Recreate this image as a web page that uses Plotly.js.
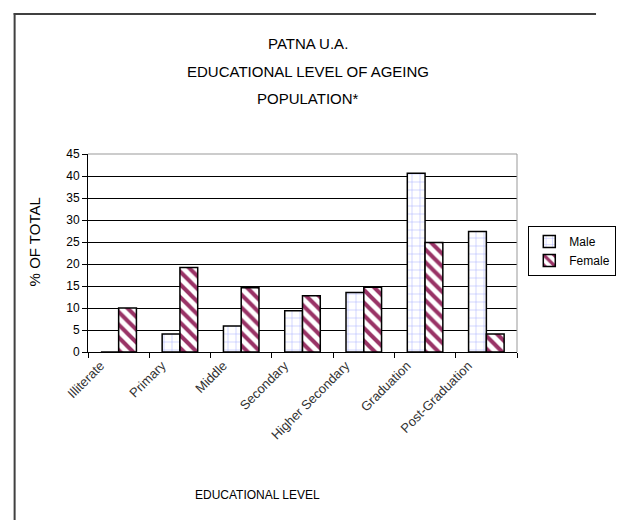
<!DOCTYPE html>
<html>
<head>
<meta charset="utf-8">
<script src="https://cdn.plot.ly/plotly-3.0.1.min.js"></script>
<style>html,body{margin:0;padding:0;background:#fff;}#chart{width:628px;height:520px;}</style>
</head>
<body>
<div id="chart"></div>
<script>
const categories = ["Illiterate", "Primary", "Middle", "Secondary", "Higher Secondary", "Graduation", "Post-Graduation"];
const maleValues = [0, 4.1, 5.9, 9.4, 13.5, 40.6, 27.4];
const femaleValues = [10, 19.2, 14.6, 12.8, 14.7, 24.9, 4.1];
const yTicks = [0, 5, 10, 15, 20, 25, 30, 35, 40, 45];
const titleLines = ["PATNA U.A.", "EDUCATIONAL LEVEL OF AGEING", "POPULATION*"];

const W = 628, H = 520;
const M = {l: 88, r: 84, t: 154, b: 168};
const pw = W - M.l - M.r, ph = H - M.t - M.b;
const px = x => (x - M.l) / pw;
const py = y => (H - M.b - y) / ph;
const FONT = "Liberation Sans, Arial, sans-serif";

const traces = [
  {
    type: "bar", name: "Male", x: categories, y: maleValues,
    marker: {
      color: "#ffffff",
      line: {color: "#000000", width: 1.5},
      pattern: {shape: "+", fgcolor: "#a8b0ff", bgcolor: "#ffffff", size: 8, solidity: 0.12}
    }
  },
  {
    type: "bar", name: "Female", x: categories, y: femaleValues,
    marker: {
      color: "#ffffff",
      line: {color: "#000000", width: 1.5},
      pattern: {shape: "\\", fgcolor: "#993366", bgcolor: "#ffffff", size: 9, solidity: 0.45}
    }
  }
];

const titleY = [43, 71, 98];
const annotations = titleLines.map((t, i) => ({
  text: t, xref: "paper", yref: "paper", x: px(322), y: py(titleY[i]),
  xanchor: "center", yanchor: "middle", showarrow: false,
  font: {family: FONT, size: 15, color: "#000"}
}));
annotations.push({
  text: "EDUCATIONAL LEVEL", xref: "paper", yref: "paper", x: px(268), y: py(495),
  xanchor: "center", yanchor: "middle", showarrow: false,
  font: {family: FONT, size: 12, color: "#000"}
});
annotations.push({
  text: "% OF TOTAL", xref: "paper", yref: "paper", x: px(31), y: py(242),
  xanchor: "center", yanchor: "middle", showarrow: false, textangle: -90,
  font: {family: FONT, size: 15, color: "#000"}
});

const layout = {
  width: W, height: H,
  margin: M,
  paper_bgcolor: "#ffffff", plot_bgcolor: "#ffffff",
  font: {family: FONT, color: "#000"},
  showlegend: true,
  barmode: "group",
  bargap: 0.42, bargroupgap: 0,
  xaxis: {
    type: "category",
    showline: true, linecolor: "#000", linewidth: 1,
    ticks: "outside", tickson: "boundaries", ticklen: 5, tickcolor: "#000",
    tickangle: -45, tickfont: {family: FONT, size: 13, color: "#333"},
    ticklabelshift: -18, ticklabelstandoff: 0,
    showgrid: false, zeroline: false
  },
  yaxis: {
    range: [0, 45], tickvals: yTicks, ticktext: yTicks.map(String),
    showline: true, linecolor: "#000", linewidth: 1,
    ticks: "outside", ticklen: 5, tickcolor: "#000",
    tickfont: {family: FONT, size: 12, color: "#000"},
    showgrid: true, gridcolor: "#000", gridwidth: 1, zeroline: false
  },
  legend: {
    x: px(556), y: py(226), xanchor: "left", yanchor: "top",
    bordercolor: "#000", borderwidth: 1, bgcolor: "#fff",
    font: {family: FONT, size: 12, color: "#000"},
    itemwidth: 30
  },
  annotations: annotations,
  shapes: [
    {type: "line", xref: "paper", yref: "paper", x0: 0, x1: 1, y0: 1, y1: 1, line: {color: "#999", width: 1}},
    {type: "line", xref: "paper", yref: "paper", x0: 1, x1: 1, y0: 0, y1: 1, line: {color: "#999", width: 1}},
    {type: "line", xref: "paper", yref: "paper", x0: px(10), x1: px(10), y0: py(13), y1: py(520), line: {color: "#404040", width: 2}},
    {type: "line", xref: "paper", yref: "paper", x0: px(9), x1: px(628), y0: py(14), y1: py(14), line: {color: "#404040", width: 2}}
  ]
};

Plotly.newPlot("chart", traces, layout, {displayModeBar: false, staticPlot: true});
</script>
</body>
</html>
